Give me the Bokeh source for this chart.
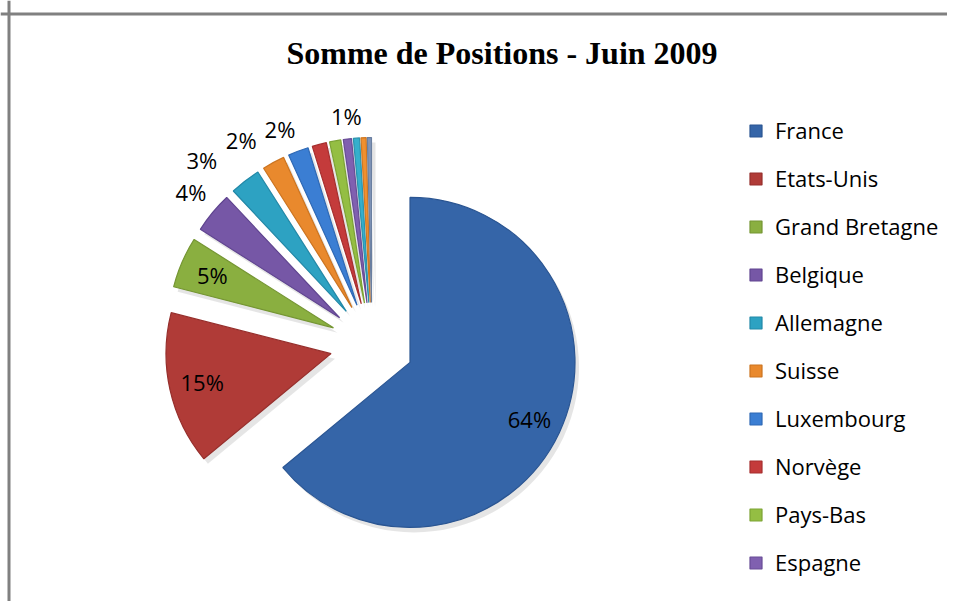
import numpy as np
from bokeh.plotting import figure
from bokeh.models import ColumnDataSource, Range1d, Legend, LegendItem, Span, Label
from bokeh.embed import file_html
from bokeh.resources import INLINE

# ---- data ----
title_text = "Somme de Positions - Juin 2009"
countries = ["France", "Etats-Unis", "Grand Bretagne", "Belgique", "Allemagne",
             "Suisse", "Luxembourg", "Norvège", "Pays-Bas", "Espagne",
             "Italie", "Irlande", "Autres"]
shares = [64.0, 15.0, 5.0, 4.0, 3.0, 2.2, 2.0, 1.4, 1.1, 0.8, 0.6, 0.5, 0.4]
pct_labels = ["64%", "15%", "5%", "4%", "3%", "2%", "2%", "", "", "1%", "", "", ""]
inside_label = [True, True, True, False, False, False, False, False, False, False, False, False, False]
legend_count = 10
colors = ["#3565A8", "#B03B37", "#8AAF40", "#7657A6", "#2DA2C2", "#E9892D",
          "#3B7ED3", "#C43B3B", "#94BE43", "#8060B0", "#35AFCC", "#F0902F", "#8095B8"]
edge_colors = ["#2A5592", "#962F2C", "#759633", "#604590", "#2289A8", "#CC7420",
               "#2F69B5", "#A62F2F", "#7CA334", "#684C96", "#2A93AD", "#D07822", "#6A7FA0"]

# ---- layout constants ----
W, H = 947, 601
CX, CY = 371.5, 257.0
R = 165.0
EXPLODE = 42.0
LABEL_PX = 22

vals = np.array(shares, dtype=float)
frac = vals / vals.sum()
cum = np.cumsum(frac)
start = np.pi / 2 - 2 * np.pi * (cum - frac)
end = np.pi / 2 - 2 * np.pi * cum
mid = (start + end) / 2
cx = CX + EXPLODE * np.cos(mid)
cy = CY + EXPLODE * np.sin(mid)

src = ColumnDataSource(dict(name=countries, x=cx, y=cy, start=start, end=end,
                            color=colors, edge=edge_colors,
                            sx=cx + 4, sy=cy - 5))

p = figure(width=W, height=H, x_range=Range1d(0, W), y_range=Range1d(0, H),
           output_backend="svg", toolbar_location=None, min_border=0)
p.axis.visible = False
p.grid.visible = False
p.outline_line_color = None
p.background_fill_color = "white"
p.border_fill_color = "white"

# soft shadow
p.wedge(x="sx", y="sy", radius=R, start_angle="start", end_angle="end",
        direction="clock", source=src, fill_color="#000000", fill_alpha=0.10,
        line_color=None)
r = p.wedge(x="x", y="y", radius=R, start_angle="start", end_angle="end",
            direction="clock", source=src, fill_color="color",
            line_color="edge", line_width=1.2)

# percentage labels: inside for big slices, outside (best fit) for small ones
placed = {}
order = [i for i in range(len(pct_labels)) if pct_labels[i]]
inside_ids = [i for i in order if inside_label[i]]
outside_ids = sorted([i for i in order if not inside_label[i]], reverse=True)

def text_w(t):
    return 0.6 * LABEL_PX * len(t)

boxes = []
for i in inside_ids:
    dx, dy = np.cos(mid[i]), np.sin(mid[i])
    k = 0.8 * R
    placed[i] = (cx[i] + k * dx, cy[i] + k * dy, "center", "middle")

for i in outside_ids:
    dx, dy = np.cos(mid[i]), np.sin(mid[i])
    rr = R + 8
    x, y = cx[i] + rr * dx, cy[i] + rr * dy
    al = "right" if dx < -0.3 else ("left" if dx > 0.3 else "center")
    bl = "bottom" if dy > 0.3 else ("top" if dy < -0.3 else "middle")
    w, h = text_w(pct_labels[i]), LABEL_PX

    def box(x, y):
        x0 = x - w if al == "right" else (x - w / 2 if al == "center" else x)
        y0 = y if bl == "bottom" else (y - h / 2 if bl == "middle" else y - h)
        return x0, x0 + w, y0, y0 + h

    pad = 12
    for _ in range(200):
        bx0, bx1, by0, by1 = box(x, y)
        hit = any(bx0 < q1 + pad and bx1 + pad > q0 and by0 < s1 and by1 > s0
                  for (q0, q1, s0, s1) in boxes)
        if not hit:
            break
        x -= 1
    boxes.append(box(x, y))
    placed[i] = (x, y, al, bl)

lx = [placed[i][0] for i in order]
ly = [placed[i][1] for i in order]
la = [placed[i][2] for i in order]
lb = [placed[i][3] for i in order]
lt = [pct_labels[i] for i in order]
lsrc = ColumnDataSource(dict(x=lx, y=ly, text=lt, align=la, base=lb))
p.text(x="x", y="y", text="text", source=lsrc, text_align="align",
       text_baseline="base", text_font={"value": "Open Sans"},
       text_font_size=f"{LABEL_PX}px", text_color="#000000")

# legend (only first entries shown, as in the original)
items = [LegendItem(label=countries[i], renderers=[r], index=i) for i in range(legend_count)]
legend = Legend(items=items, location=(748, 24), label_text_font="Open Sans",
                label_text_font_size="22px", label_text_color="#000000",
                glyph_width=15, glyph_height=15,
                label_standoff=12, spacing=18, label_height=30, padding=0, margin=0,
                border_line_color=None, background_fill_alpha=0)
p.add_layout(legend)

# title
p.add_layout(Label(x=501.5, y=549, text=title_text, text_font="Liberation Serif",
                   text_font_style="bold", text_font_size="32px",
                   text_align="center", text_baseline="alphabetic",
                   text_color="#000000"))

# chart frame (top and left edges visible)
p.add_layout(Span(location=587.5, dimension="width", line_color="#808080", line_width=3))
p.add_layout(Span(location=8.5, dimension="height", line_color="#808080", line_width=3))

open("out.html", "w").write(file_html(p, INLINE))
